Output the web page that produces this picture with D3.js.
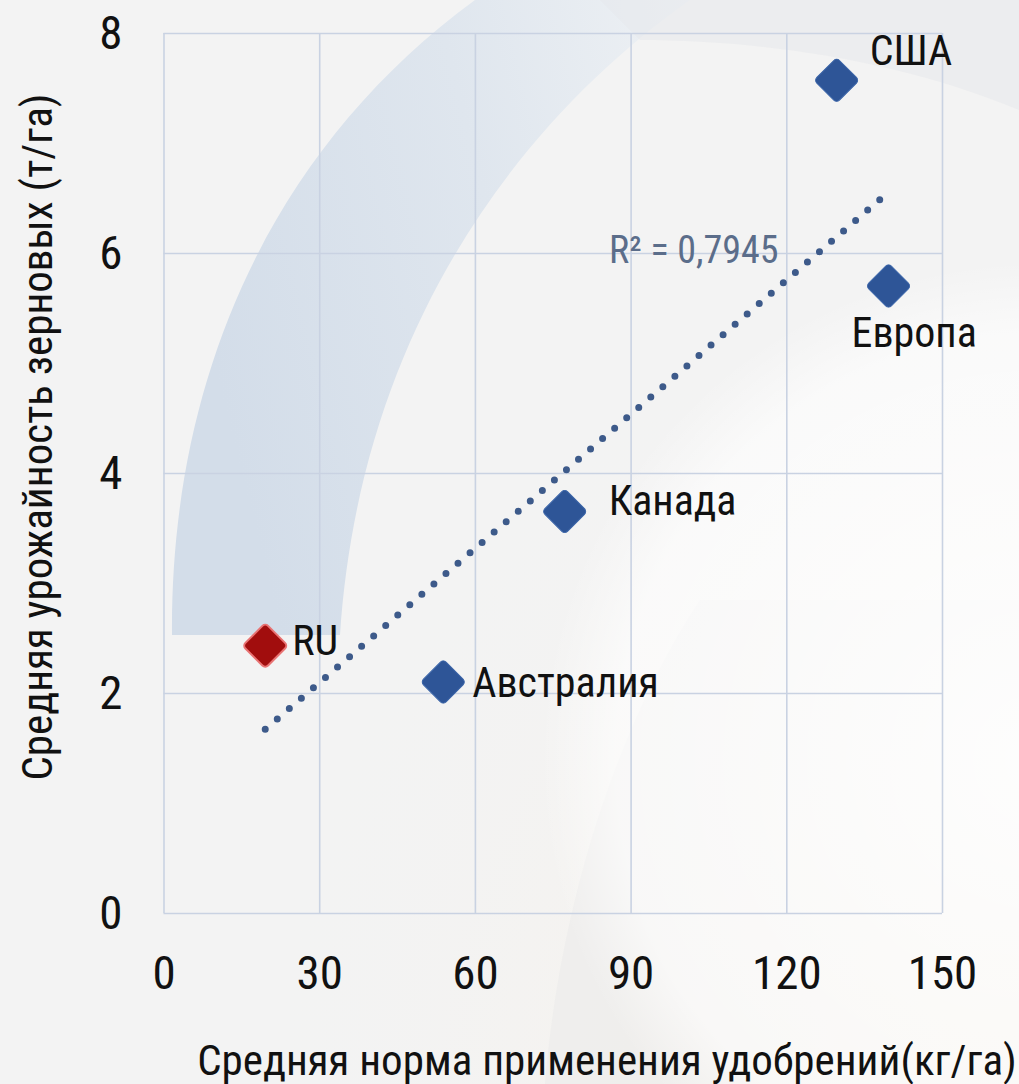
<!DOCTYPE html>
<html lang="ru">
<head>
<meta charset="UTF-8">
<title>Урожайность и удобрения</title>
<script src="https://cdn.jsdelivr.net/npm/d3@7"></script>
<style>
    body { margin: 0; background: #f3f3f3; }
    svg { display: block; font-family: "Liberation Sans Narrow", "Roboto Condensed", "Liberation Sans", sans-serif; }
    .grid line { stroke: #c9d2e2; stroke-width: 1.6; }
    .grid text { fill: #111; font-size: 47px; }
    .lbl { fill: #111; font-size: 42px; }
    .title { fill: #111; font-size: 43px; }
</style>
</head>
<body>
<div id="chart"></div>
<script>
    // данные
    var countries = ["США", "Европа", "Канада", "Австралия", "RU"];
    var fertilizer = [129.7, 139.7, 77.3, 53.9, 19.6];   // кг/га
    var yieldT = [7.57, 5.70, 3.65, 2.10, 2.43];          // т/га
    var xTicks = [0, 30, 60, 90, 120, 150];
    var yTicks = [0, 2, 4, 6, 8];
    var r2Label = "R² = 0,7945";

    var width = 1019, height = 1084;
    var svg = d3.select("#chart").append("svg")
        .attr("width", width).attr("height", height);

    var x = d3.scaleLinear().domain([0, 150]).range([163.5, 942]);
    var y = d3.scaleLinear().domain([0, 8]).range([913, 33]);

    // фон
    var defs = svg.append("defs");
    var warm = defs.append("radialGradient").attr("id", "warm")
        .attr("cx", "100%").attr("cy", "100%").attr("r", "75%");
    warm.append("stop").attr("offset", "0%").attr("stop-color", "#fcf2e2");
    warm.append("stop").attr("offset", "100%").attr("stop-color", "#f3f3f3").attr("stop-opacity", 0);
    var band = defs.append("linearGradient").attr("id", "band")
        .attr("x1", "0%").attr("y1", "30%").attr("x2", "100%").attr("y2", "0%");
    band.append("stop").attr("offset", "0%").attr("stop-color", "#d3dde9");
    band.append("stop").attr("offset", "55%").attr("stop-color", "#dfe6ee");
    band.append("stop").attr("offset", "100%").attr("stop-color", "#eef1f4");
    var glow = defs.append("radialGradient").attr("id", "glow");
    glow.append("stop").attr("offset", "0%").attr("stop-color", "#ffffff").attr("stop-opacity", 0.9);
    glow.append("stop").attr("offset", "85%").attr("stop-color", "#ffffff").attr("stop-opacity", 0.6);
    glow.append("stop").attr("offset", "100%").attr("stop-color", "#ffffff").attr("stop-opacity", 0);

    svg.append("rect").attr("width", width).attr("height", height).attr("fill", "#f3f3f3");
    svg.append("rect").attr("width", width).attr("height", height).attr("fill", "url(#warm)");
    svg.append("path")
        .attr("d", "M545,1084 C560,900 620,720 700,600 L1019,600 L1019,1084 Z")
        .attr("fill", "#e9e9e9").attr("opacity", 0.5);
    svg.append("circle").attr("cx", 1040).attr("cy", 760).attr("r", 500).attr("fill", "url(#glow)");
    svg.append("path")
        .attr("d", "M172,635 C170,380 270,150 475,0 L690,0 C520,120 360,330 340,635 Z")
        .attr("fill", "url(#band)");
    svg.append("path")
        .attr("d", "M600,0 L1019,0 L1019,110 C900,60 760,40 640,40 Z")
        .attr("fill", "#e6e8eb").attr("opacity", 0.5);

    // сетка и подписи осей
    var gx = svg.append("g").attr("class", "grid")
        .attr("transform", "translate(0," + y(0) + ")")
        .call(d3.axisBottom(x).tickValues(xTicks).tickSize(-(y(0) - y(8))).tickFormat(d3.format("d")))
        .attr("font-family", null).attr("font-size", null);
    gx.select(".domain").remove();
    gx.selectAll("text").attr("y", 76).attr("dy", null);

    var gy = svg.append("g").attr("class", "grid")
        .attr("transform", "translate(" + x(0) + ",0)")
        .call(d3.axisLeft(y).tickValues(yTicks).tickSize(-(x(150) - x(0))).tickFormat(d3.format("d")))
        .attr("font-family", null).attr("font-size", null);
    gy.select(".domain").remove();
    gy.selectAll("text").attr("x", -41);

    // линия тренда (линейная регрессия по точкам)
    var mx = d3.mean(fertilizer), my = d3.mean(yieldT);
    var sxy = d3.sum(fertilizer, function (v, i) { return (v - mx) * (yieldT[i] - my); });
    var sxx = d3.sum(fertilizer, function (v) { return (v - mx) * (v - mx); });
    var slope = sxy / sxx, icpt = my - slope * mx;
    var xr = [d3.min(fertilizer), 138];
    var trend = svg.append("path")
        .datum(xr)
        .attr("d", d3.line().x(function (d) { return x(d); }).y(function (d) { return y(icpt + slope * d); }))
        .attr("fill", "none")
        .attr("stroke", "#3d5a8a")
        .attr("stroke-width", 7)
        .attr("stroke-linecap", "round");
    // точки равномерно до конца линии
    var len = trend.node().getTotalLength();
    var gap = len / Math.round(len / 16);
    trend.attr("stroke-dasharray", "0 " + gap);

    svg.append("text")
        .attr("x", 609).attr("y", 263)
        .attr("font-size", 38).attr("fill", "#5b6d8a")
        .text(r2Label);

    // точки
    var pts = countries.map(function (c, i) { return { name: c, fx: fertilizer[i], fy: yieldT[i] }; });
    var labelOff = { "США": [33, -15], "Европа": [-37, 61], "Канада": [44, 3], "Австралия": [29, 15], "RU": [27, 9] };

    var node = svg.selectAll(".pt").data(pts).enter().append("g")
        .attr("class", "pt")
        .attr("transform", function (d) { return "translate(" + x(d.fx) + "," + y(d.fy) + ")"; });
    node.append("rect")
        .attr("x", -16).attr("y", -16).attr("width", 32).attr("height", 32)
        .attr("rx", 4).attr("transform", "rotate(45)")
        .attr("fill", function (d) { return d.name === "RU" ? "#a10d0d" : "#2e5597"; })
        .attr("stroke", function (d) { return d.name === "RU" ? "#e87373" : "#3a64a8"; })
        .attr("stroke-width", function (d) { return d.name === "RU" ? 2 : 1; });
    node.append("text")
        .attr("class", "lbl")
        .attr("x", function (d) { return labelOff[d.name][0]; })
        .attr("y", function (d) { return labelOff[d.name][1]; })
        .text(function (d) { return d.name; });

    // заголовки осей
    svg.append("text").attr("class", "title")
        .attr("text-anchor", "middle")
        .attr("x", 607).attr("y", 1075)
        .text("Средняя норма применения удобрений(кг/га)");
    svg.append("text").attr("class", "title")
        .attr("text-anchor", "middle")
        .attr("transform", "translate(52,437) rotate(-90)")
        .text("Средняя урожайность зерновых (т/га)");
</script>
</body>
</html>
